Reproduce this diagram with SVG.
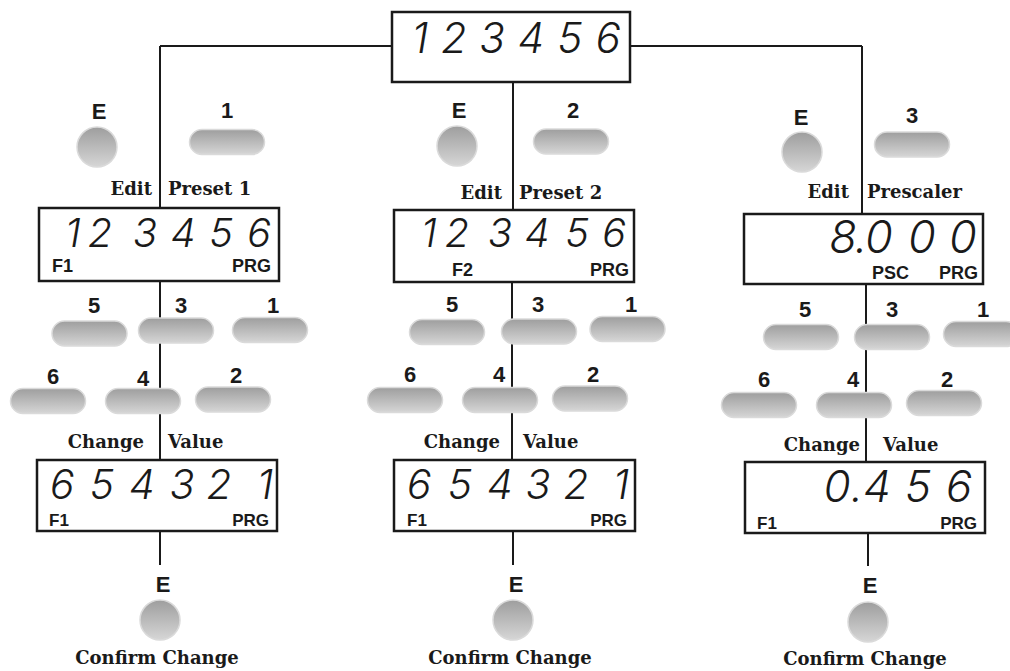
<svg xmlns="http://www.w3.org/2000/svg" width="1010" height="671" viewBox="0 0 1010 671">
<defs>
<linearGradient id="g" x1="0" y1="0" x2="0" y2="1">
<stop offset="0" stop-color="#9e9e9e"/>
<stop offset="1" stop-color="#d6d6d6"/>
</linearGradient>
<style>
.box{fill:#fff;stroke:#1a1a1a;stroke-width:2.5}
.ln{stroke:#1a1a1a;stroke-width:2;fill:none}
.btn{fill:url(#g);stroke:#dadada;stroke-width:1.5}
.seg{font-family:Inter,"Liberation Sans",Arial,sans-serif;font-style:italic;font-weight:300;fill:#1a1a1a;text-anchor:middle}
.k{font-family:"Liberation Sans",Arial,sans-serif;font-weight:bold;font-size:22px;fill:#1a1a1a;text-anchor:middle}
.s{font-family:"Liberation Sans",Arial,sans-serif;font-weight:bold;font-size:18px;fill:#1a1a1a}
.s2{font-family:"Liberation Sans",Arial,sans-serif;font-weight:bold;font-size:17px;fill:#1a1a1a}
.c{font-family:"DejaVu Serif","Liberation Serif",serif;font-weight:bold;font-size:18px;fill:#1a1a1a}
.e{text-anchor:end}
.m{text-anchor:middle}
</style>
</defs>
<rect width="1010" height="671" fill="#fff"/>
<g id="connectors">
<path class="ln" d="M160 46 H392 M630 46 H862"/>
<path class="ln" d="M160 46 V208 M513 82 V210 M862 46 V214"/>
<path class="ln" d="M160 281 V460 M512 282 V460 M866 284 V462"/>
<path class="ln" d="M160 531 V565 M513 531 V565 M868 533 V566"/>
</g>
<g id="main-display">
<rect class="box" x="392" y="12" width="238" height="70"/>
<text class="seg" font-size="42" x="420 454 492 531 570 608" y="53">123456</text>
</g>
<g id="col1-edit">
<text class="k" x="99" y="119">E</text>
<circle class="btn" cx="97" cy="147" r="20"/>
<text class="k" x="227" y="118">1</text>
<rect class="btn" x="189.5" y="129.5" width="75" height="25" rx="12.5"/>
<text class="c e" x="152" y="195">Edit</text>
<text class="c" x="168" y="195">Preset 1</text>
</g>
<g id="col1-display1">
<rect class="box" x="39" y="208" width="240" height="73"/>
<text class="seg" font-size="40" x="73 100 145 183 221 259" y="247">123456</text>
<text class="s" x="52" y="272">F1</text>
<text class="s e" x="271" y="272">PRG</text>
</g>
<g id="col1-keys">
<text class="k" x="94" y="313">5</text>
<rect class="btn" x="52" y="321" width="75" height="25" rx="12.5"/>
<text class="k" x="181" y="313">3</text>
<rect class="btn" x="138.5" y="318" width="75" height="25" rx="12.5"/>
<text class="k" x="273" y="313">1</text>
<rect class="btn" x="232.5" y="317.5" width="75" height="25" rx="12.5"/>
<text class="k" x="53" y="384">6</text>
<rect class="btn" x="10.5" y="388.5" width="75" height="25" rx="12.5"/>
<text class="k" x="143" y="386">4</text>
<rect class="btn" x="105.5" y="388.5" width="75" height="25" rx="12.5"/>
<text class="k" x="236" y="383">2</text>
<rect class="btn" x="195.5" y="387" width="75" height="25" rx="12.5"/>
<text class="c e" x="144" y="448">Change</text>
<text class="c" x="168" y="448">Value</text>
</g>
<g id="col1-display2">
<rect class="box" x="37" y="460" width="240" height="71"/>
<text class="seg" font-size="41" x="62 102 142 182 219 265" y="499">654321</text>
<text class="s2" x="49" y="526">F1</text>
<text class="s2 e" x="269" y="526">PRG</text>
</g>
<g id="col1-confirm">
<text class="k" x="163" y="592">E</text>
<circle class="btn" cx="160" cy="620" r="20"/>
<text class="c m" x="157" y="664">Confirm Change</text>
</g>
<g id="col2-edit">
<text class="k" x="459" y="118">E</text>
<circle class="btn" cx="457" cy="146" r="20"/>
<text class="k" x="573" y="118">2</text>
<rect class="btn" x="533.5" y="129" width="75" height="25" rx="12.5"/>
<text class="c e" x="502" y="199">Edit</text>
<text class="c" x="519" y="199">Preset 2</text>
</g>
<g id="col2-display1">
<rect class="box" x="394" y="210" width="240" height="72"/>
<text class="seg" font-size="40" x="429 457 500 537 577 614" y="247">123456</text>
<text class="s" x="452" y="276">F2</text>
<text class="s e" x="629" y="276">PRG</text>
</g>
<g id="col2-keys">
<text class="k" x="452" y="312">5</text>
<rect class="btn" x="409.5" y="319.5" width="75" height="25" rx="12.5"/>
<text class="k" x="538" y="312">3</text>
<rect class="btn" x="501.5" y="319" width="75" height="25" rx="12.5"/>
<text class="k" x="631" y="312">1</text>
<rect class="btn" x="590" y="316.5" width="75" height="25" rx="12.5"/>
<text class="k" x="410" y="382">6</text>
<rect class="btn" x="367.5" y="387.5" width="75" height="25" rx="12.5"/>
<text class="k" x="499" y="382">4</text>
<rect class="btn" x="462.5" y="387.5" width="75" height="25" rx="12.5"/>
<text class="k" x="593" y="382">2</text>
<rect class="btn" x="552.5" y="386" width="75" height="25" rx="12.5"/>
<text class="c e" x="500" y="448">Change</text>
<text class="c" x="523" y="448">Value</text>
</g>
<g id="col2-display2">
<rect class="box" x="394" y="460" width="241" height="71"/>
<text class="seg" font-size="41" x="419 460 500 538 576 621" y="499">654321</text>
<text class="s2" x="407" y="526">F1</text>
<text class="s2 e" x="627" y="526">PRG</text>
</g>
<g id="col2-confirm">
<text class="k" x="516" y="592">E</text>
<circle class="btn" cx="513" cy="620" r="20"/>
<text class="c m" x="510" y="664">Confirm Change</text>
</g>
<g id="col3-edit">
<text class="k" x="801" y="125">E</text>
<circle class="btn" cx="802" cy="152" r="20"/>
<text class="k" x="912" y="123">3</text>
<rect class="btn" x="874.5" y="132" width="75" height="25" rx="12.5"/>
<text class="c e" x="849" y="198">Edit</text>
<text class="c" x="867" y="198">Prescaler</text>
</g>
<g id="col3-display1">
<rect class="box" x="744" y="214" width="239" height="70"/>
<text class="seg" font-size="45" x="843 861 879 922 963" y="253">8.000</text>
<text class="s" x="872" y="279">PSC</text>
<text class="s e" x="978" y="279">PRG</text>
</g>
<g id="col3-keys">
<text class="k" x="805" y="317">5</text>
<rect class="btn" x="763.5" y="324.5" width="75" height="25" rx="12.5"/>
<text class="k" x="892" y="317">3</text>
<rect class="btn" x="854.5" y="324.5" width="75" height="25" rx="12.5"/>
<text class="k" x="983" y="317">1</text>
<rect class="btn" x="943.5" y="321.5" width="75" height="25" rx="12.5"/>
<text class="k" x="764" y="387">6</text>
<rect class="btn" x="721.5" y="392.5" width="75" height="25" rx="12.5"/>
<text class="k" x="853" y="387">4</text>
<rect class="btn" x="816.5" y="392.5" width="75" height="25" rx="12.5"/>
<text class="k" x="947" y="387">2</text>
<rect class="btn" x="906.5" y="390.5" width="75" height="25" rx="12.5"/>
<text class="c e" x="860" y="451">Change</text>
<text class="c" x="883" y="451">Value</text>
</g>
<g id="col3-display2">
<rect class="box" x="745" y="462" width="240" height="71"/>
<text class="seg" font-size="44" x="837 857 877 918 959" y="502">0.456</text>
<text class="s2" x="757" y="529">F1</text>
<text class="s2 e" x="977" y="529">PRG</text>
</g>
<g id="col3-confirm">
<text class="k" x="870" y="593">E</text>
<circle class="btn" cx="868" cy="622" r="20"/>
<text class="c m" x="865" y="665">Confirm Change</text>
</g>
</svg>
